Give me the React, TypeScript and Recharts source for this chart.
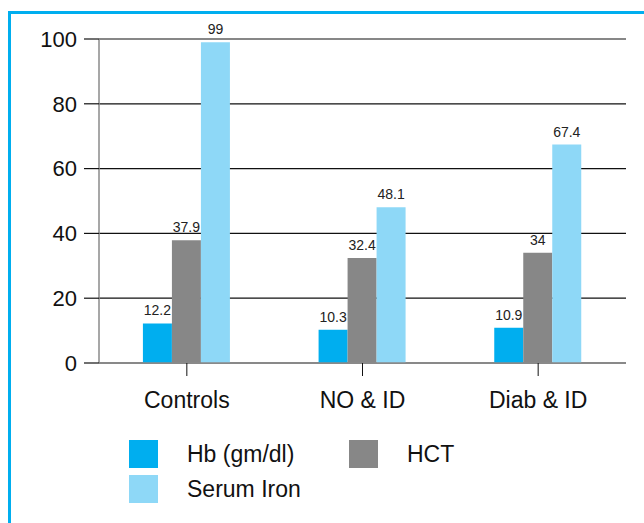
import React from 'react';
import { BarChart, Bar, XAxis, YAxis, CartesianGrid, LabelList } from 'recharts';

const categories = ['Controls', 'NO & ID', 'Diab & ID'];
const hbValues = [12.2, 10.3, 10.9];
const hctValues = [37.9, 32.4, 34];
const ironValues = [99, 48.1, 67.4];
const yTicks = [0, 20, 40, 60, 80, 100];

const series = [
  { key: 'hb', name: 'Hb (gm/dl)', color: '#00AEEF' },
  { key: 'hct', name: 'HCT', color: '#878787' },
  { key: 'iron', name: 'Serum Iron', color: '#8ED8F7' },
];

const data = categories.map((c, i) => ({
  name: c,
  hb: hbValues[i],
  hct: hctValues[i],
  iron: ironValues[i],
}));

const font = '"Liberation Sans", Arial, sans-serif';

// legend boxes, laid out like the original (two per row)
const legendPos = [
  { left: 129, top: 440, textLeft: 187 },
  { left: 349, top: 440, textLeft: 407 },
  { left: 129, top: 475, textLeft: 187 },
];

export default function App() {
  return (
    <div style={{ position: 'absolute', left: 0, top: 0, width: 644, height: 523, background: '#fff', fontFamily: font }}>
      {/* cyan frame, cut off at right and bottom */}
      <div style={{ position: 'absolute', left: 8, top: 11, width: 636, height: 3, background: '#00AEEF' }} />
      <div style={{ position: 'absolute', left: 8, top: 11, width: 3, height: 512, background: '#00AEEF' }} />

      <BarChart
        width={644}
        height={523}
        data={data}
        margin={{ top: 39, right: 18, left: 0, bottom: 100 }}
        barCategoryGap="25%"
        barGap={0}
        style={{ position: 'absolute', left: 0, top: 0, fontFamily: font }}
      >
        <CartesianGrid vertical={false} stroke="#111" strokeWidth={1.2} />
        <XAxis
          dataKey="name"
          height={60}
          axisLine={{ stroke: '#8a8a8a', strokeWidth: 1.5 }}
          tickLine={{ stroke: '#111' }}
          tickSize={13}
          tickMargin={16}
          tick={{ fontSize: 23, fill: '#111' }}
        />
        <YAxis
          width={99}
          domain={[0, 100]}
          ticks={yTicks}
          axisLine={{ stroke: '#8a8a8a', strokeWidth: 1.5 }}
          tickLine={{ stroke: '#111', strokeWidth: 1.2 }}
          tickSize={15}
          tickMargin={7}
          tick={{ fontSize: 22, fill: '#111' }}
        />
        {series.map((s) => (
          <Bar key={s.key} dataKey={s.key} name={s.name} fill={s.color} isAnimationActive={false}>
            <LabelList dataKey={s.key} position="top" offset={8} style={{ fontSize: 14, fill: '#222' }} />
          </Bar>
        ))}
      </BarChart>

      {series.map((s, i) => (
        <React.Fragment key={s.key}>
          <div
            style={{
              position: 'absolute',
              left: legendPos[i].left,
              top: legendPos[i].top,
              width: 29,
              height: 28,
              background: s.color,
            }}
          />
          <div
            style={{
              position: 'absolute',
              left: legendPos[i].textLeft,
              top: legendPos[i].top,
              height: 28,
              lineHeight: '28px',
              fontSize: 23,
              color: '#111',
              whiteSpace: 'nowrap',
            }}
          >
            {s.name}
          </div>
        </React.Fragment>
      ))}
    </div>
  );
}
